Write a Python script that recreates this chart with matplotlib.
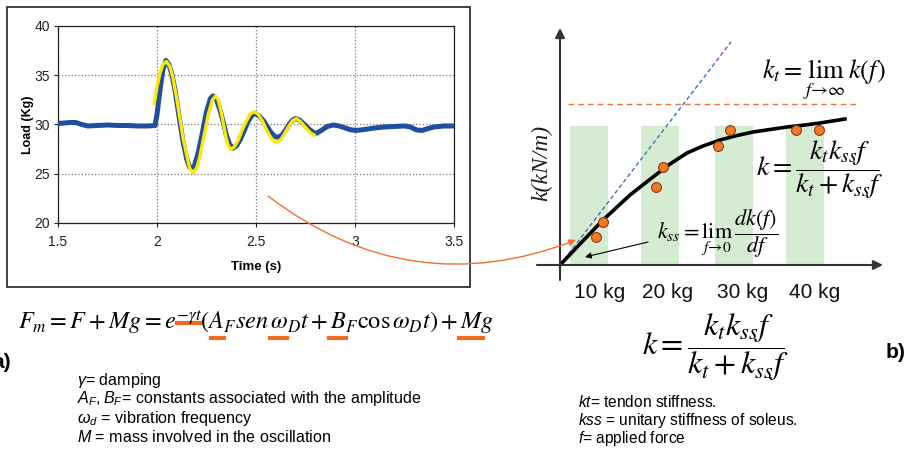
import matplotlib.pyplot as plt
import matplotlib.patches as mpatches
import numpy as np

plt.rcParams['font.family'] = ['Liberation Sans', 'DejaVu Sans']
plt.rcParams['mathtext.fontset'] = 'custom'
plt.rcParams['mathtext.rm'] = 'Liberation Sans'
plt.rcParams['mathtext.it'] = 'Liberation Sans:italic'
plt.rcParams['mathtext.bf'] = 'Liberation Sans:bold'

# ---- a) load recording
t_raw = [1.50, 1.53, 1.56, 1.59, 1.62, 1.65, 1.70, 1.75, 1.80, 1.85, 1.90, 1.95, 1.99,
         2.00, 2.015, 2.03, 2.045, 2.06, 2.075, 2.09, 2.11, 2.13, 2.15, 2.165, 2.175,
         2.19, 2.21, 2.23, 2.25, 2.27, 2.283, 2.30, 2.32, 2.335, 2.35, 2.367, 2.384,
         2.40, 2.42, 2.44, 2.46, 2.48, 2.495, 2.515, 2.535, 2.555, 2.575, 2.595, 2.61,
         2.63, 2.65, 2.67, 2.685, 2.70, 2.72, 2.745, 2.77, 2.79, 2.805, 2.83, 2.86,
         2.89, 2.92, 2.95, 2.98, 3.01, 3.05, 3.10, 3.15, 3.20, 3.25, 3.28, 3.31, 3.34,
         3.37, 3.40, 3.45, 3.50]
load_raw = [30.1, 30.15, 30.2, 30.2, 30.0, 29.85, 29.9, 29.95, 29.9, 29.9, 29.85, 29.85, 29.9,
            31.0, 33.5, 35.6, 36.5, 36.1, 35.1, 33.6, 31.0, 28.4, 26.5, 25.65, 25.5,
            25.85, 27.3, 29.25, 31.3, 32.65, 32.9, 32.55, 31.35, 30.2, 28.95, 27.95, 27.6,
            27.8, 28.45, 29.35, 30.3, 30.95, 31.1, 30.9, 30.45, 29.85, 29.2, 28.8, 28.7,
            28.9, 29.45, 30.1, 30.45, 30.6, 30.45, 30.0, 29.5, 29.2, 29.1, 29.4, 29.8,
            29.95, 29.85, 29.65, 29.45, 29.4, 29.5, 29.65, 29.75, 29.8, 29.85, 29.75, 29.45, 29.4,
            29.6, 29.75, 29.85, 29.85]

# damped sine fit
t_fit = [1.985, 2.00, 2.015, 2.03, 2.047, 2.065, 2.08, 2.10, 2.115, 2.13, 2.15, 2.165, 2.182,
         2.20, 2.215, 2.24, 2.26, 2.28, 2.296, 2.31, 2.325, 2.335, 2.35, 2.36, 2.372,
         2.39, 2.41, 2.43, 2.45, 2.47, 2.49, 2.51, 2.53, 2.545, 2.565, 2.585, 2.603,
         2.625, 2.645, 2.665, 2.685, 2.704, 2.725, 2.75, 2.775, 2.796]
load_fit = [32.1, 33.8, 35.2, 36.1, 36.4, 35.9, 34.8, 32.6, 30.7, 28.8, 26.9, 25.55, 25.1,
            25.57, 26.6, 29.1, 31.1, 32.5, 32.9, 32.45, 31.2, 30.1, 28.55, 27.85, 27.5,
            27.7, 28.4, 29.45, 30.3, 31.05, 31.3, 31.07, 30.45, 29.8, 29.0, 28.4, 28.2,
            28.45, 29.1, 29.8, 30.4, 30.6, 30.3, 29.7, 29.15, 28.9]

x_ticks = [1.5, 2, 2.5, 3, 3.5]
x_ticklabels = ['1.5', '2', '2.5', '3', '3.5']
y_ticks = [20, 25, 30, 35, 40]

# ---- b) stiffness schematic (arbitrary units)
bar_x = [29, 99.5, 173.5, 245]
bar_h = [139, 139, 139, 139]
bar_labels = ['10 kg', '20 kg', '30 kg', '40 kg']
bar_label_x = [40, 108, 183, 255]
pts_f = [36, 43, 96, 103, 158, 170, 236, 259]
pts_k = [28, 43, 78, 98, 119, 135, 135, 135]
curve_f = [0, 20, 43, 70, 93, 110, 127, 143, 160, 177, 193, 210, 227, 245, 260, 285]
curve_k = [0, 21, 45, 70, 88, 101, 112, 119, 125, 129.5, 133, 135.5, 138, 140, 142, 146]
kss_line_f = [0, 171]
kss_line_k = [0, 223]
kt_line_f = [8, 298]
kt_line_k = [161, 161]

W, H = 909, 451


def px(x, y):
    return x / W, 1 - y / H


fig = plt.figure(figsize=(W / 100, H / 100), dpi=100)
renderer = fig.canvas.get_renderer()

# ---------------- left chart
ax = fig.add_axes([58 / W, 1 - 223 / H, (454 - 58) / W, (223 - 26) / H])
ax.plot(t_raw, load_raw, color='#1f4f9e', lw=3.6, solid_capstyle='round', zorder=3)
ax.plot(t_fit, load_fit, color='#ffe800', lw=2.4, solid_capstyle='round', zorder=4)
ax.set_xlim(1.5, 3.5)
ax.set_ylim(20, 40)
ax.set_xticks(x_ticks)
ax.set_xticklabels(x_ticklabels)
ax.set_yticks(y_ticks)
ax.grid(True, color='#777777', ls=':', lw=0.9)
ax.tick_params(labelsize=10, length=3, width=0.8, colors='#222222', pad=3)
ax.tick_params(axis='x', pad=6)
for s in ax.spines.values():
    s.set_color('#222222')
    s.set_linewidth(0.9)
ax.set_xlabel('Time (s)', fontsize=9.5, fontweight='bold', labelpad=8)
ax.set_ylabel('Load (Kg)', fontsize=9, fontweight='bold', labelpad=0)

fig.add_artist(mpatches.Rectangle(px(7, 287), 463 / W, 280 / H, transform=fig.transFigure,
                                  fill=False, ec='#222222', lw=1.2))

# ---------------- right schematic
ax2 = fig.add_axes([530 / W, 1 - 290 / H, 360 / W, 265 / H])
ax2.set_xlim(-30, 330)
ax2.set_ylim(-25, 240)
ax2.axis('off')
ax2.bar(bar_x, bar_h, width=38, color='#d6ecd2', zorder=1)
ax2.plot(kss_line_f, kss_line_k, color='#3b6fc0', lw=1, ls=(0, (3, 2)), zorder=2)
ax2.plot(kt_line_f, kt_line_k, color='#f07030', lw=1, ls=(0, (4, 3)), zorder=2)
ax2.plot(curve_f, curve_k, color='black', lw=2.6, zorder=3)
ax2.scatter(pts_f, pts_k, s=50, color='#f47a2a', edgecolor='#8a3c0e', lw=0.8, zorder=4)
arr = dict(arrowstyle='-|>', color='#333333', lw=1.5, mutation_scale=14, shrinkA=0, shrinkB=0)
ax2.annotate('', xy=(323, 0), xytext=(-23, 0), arrowprops=arr, zorder=5)
ax2.annotate('', xy=(0, 237), xytext=(0, -15), arrowprops=arr, zorder=5)
ax2.annotate('', xy=(25, 8), xytext=(88, 23),
             arrowprops=dict(arrowstyle='-|>', color='black', lw=0.8, mutation_scale=9,
                             shrinkA=0, shrinkB=0), zorder=5)
for xl, lab in zip(bar_label_x, bar_labels):
    ax2.text(xl, -27, lab, fontsize=15, ha='center', va='center', color='#111111')

ax2.text(-18, 102, 'k(kN/m)', fontsize=17, rotation=90, ha='center', va='center',
         family='Liberation Serif', style='italic', color='#222222')

frac = r'$k = \dfrac{k_t k_{ss} f}{k_t + k_{ss} f}$'
fig.text(*px(824, 80), r'$k_t = \lim_{f\to\infty}\, k(f)$', fontsize=19, ha='center',
         va='center', math_fontfamily='stix')
fig.text(*px(820, 170), frac, fontsize=20, ha='center', va='center', math_fontfamily='stix')
fig.text(*px(718, 234), r'$k_{ss} = \lim_{f\to 0}\,\dfrac{dk(f)}{df}$', fontsize=16,
         ha='center', va='center', math_fontfamily='stix')

# ---------------- bottom formulas and notes
fm_size = 17.5
fm_x, fm_y = 18, 322
fm = r'F_m = F + Mg = e^{-\gamma t}(A_F sen\,\omega_D t + B_F \cos\omega_D t) + Mg'
fig.text(*px(fm_x, fm_y), '$' + fm + '$', fontsize=fm_size, ha='left', va='center',
         math_fontfamily='stix')


def width_of(s):
    t = fig.text(0, 0, '$' + s + '$', fontsize=fm_size, math_fontfamily='stix')
    w = t.get_window_extent(renderer).width
    t.remove()
    return w


# orange marks under the fitted terms (main letter only)
head = r'F_m = F + Mg = e'
marks = [(head, head + r'^{-\gamma t}', 323),
         (head + r'^{-\gamma t}(', head + r'^{-\gamma t}(A', 338),
         (head + r'^{-\gamma t}(A_F sen\,', head + r'^{-\gamma t}(A_F sen\,\omega', 338),
         (head + r'^{-\gamma t}(A_F sen\,\omega_D t +', head + r'^{-\gamma t}(A_F sen\,\omega_D t + B', 338),
         (fm[:-2], fm[:-1], 338)]
for pre, upto, yy in marks:
    x0 = fm_x + width_of(pre) + 1
    x1 = fm_x + width_of(upto) - 1
    fig.add_artist(plt.Line2D([x0 / W, x1 / W], [1 - yy / H, 1 - yy / H],
                              transform=fig.transFigure, color='#f26a21', lw=3))

fig.text(*px(715, 347), frac, fontsize=23, ha='center', va='center', math_fontfamily='stix')

fig.text(*px(11, 362), 'a)', fontsize=15, fontweight='bold', ha='right', va='center')
fig.text(*px(905, 352), 'b)', fontsize=15, fontweight='bold', ha='right', va='center')

notes_a = [r'$\gamma$= damping',
           r'$A_F, B_F$= constants associated with the amplitude',
           r'$\omega_d$ = vibration frequency',
           r'$M$ = mass involved in the oscillation']
for i, s in enumerate(notes_a):
    fig.text(*px(77, 380 + 19 * i), s, fontsize=11.6, ha='left', va='center')

notes_b = [r'$kt$= tendon stiffness.',
           r'$kss$ = unitary stiffness of soleus.',
           r'$f$= applied force']
for i, s in enumerate(notes_b):
    fig.text(*px(578, 402 + 18.5 * i), s, fontsize=11.2, ha='left', va='center')

# orange link arrow from the fit to the schematic
fig.add_artist(mpatches.FancyArrowPatch(px(268, 196), px(576, 240), transform=fig.transFigure,
                                        connectionstyle='arc3,rad=0.28', arrowstyle='-|>',
                                        mutation_scale=10, color='#f07030', lw=1,
                                        shrinkA=0, shrinkB=0))

fig.savefig('out.png', dpi=100)
